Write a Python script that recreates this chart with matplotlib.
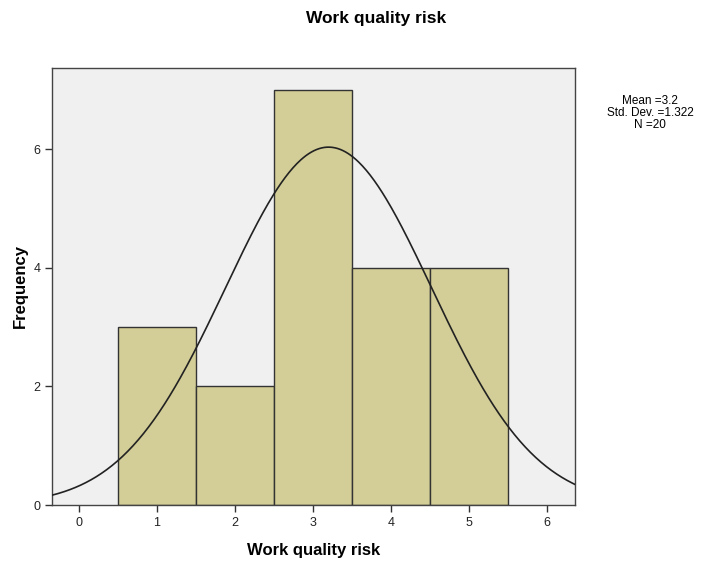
import numpy as np
import matplotlib
matplotlib.use("Agg")
import matplotlib.pyplot as plt

plt.rcParams["font.family"] = ["Liberation Sans", "DejaVu Sans"]

bin_centers = [1, 2, 3, 4, 5]
frequencies = [3, 2, 7, 4, 4]
mean_val = 3.2
std_val = 1.322
n_val = 20
x_ticks = [0, 1, 2, 3, 4, 5, 6]
y_ticks = [0, 2, 4, 6]

fig = plt.figure(figsize=(7.19, 5.64), dpi=100)
ax = fig.add_axes([52/719, 59/564, 523/719, 437/564])
ax.set_facecolor("#F0F0F0")

ax.bar(bin_centers, frequencies, width=1.0, color="#D3CE97", edgecolor="#333333", linewidth=1.0, zorder=2)

xs = np.linspace(-0.35, 6.36, 400)
ys = n_val * 1.0 / (std_val * np.sqrt(2 * np.pi)) * np.exp(-0.5 * ((xs - mean_val) / std_val) ** 2)
ax.plot(xs, ys, color="#222222", linewidth=1.2, zorder=3)

ax.set_xlim(-0.346, 6.36)
ax.set_ylim(0, 7.37)
ax.set_xticks(x_ticks)
ax.set_yticks(y_ticks)
ax.tick_params(axis="both", direction="out", length=5, width=1, colors="#333333", labelsize=9, labelcolor="#222222")
for s in ax.spines.values():
    s.set_color("#444444")
    s.set_linewidth(1.0)

ax.set_xlabel("Work quality risk", fontsize=12, fontweight="bold")
ax.set_ylabel("Frequency", fontsize=12, fontweight="bold")
ax.xaxis.set_label_coords(0.5, -0.105)
ax.yaxis.set_label_coords(-0.061, 0.5)
ax.xaxis.label.set_va("center")
ax.yaxis.label.set_va("center")
fig.text(376/719, 1 - 18/564, "Work quality risk", ha="center", va="center", fontsize=12.5, fontweight="bold")
fig.text(650/719, 1 - 113/564, f"Mean ={mean_val}\nStd. Dev. ={std_val}\nN ={n_val}",
         ha="center", va="center", fontsize=8.5, linespacing=1.05)

fig.savefig("out.png", dpi=100)
